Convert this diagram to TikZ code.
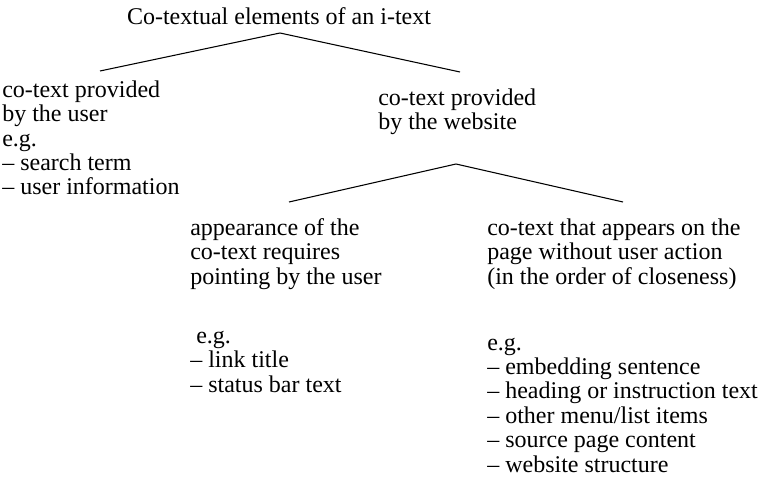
\documentclass[tikz,border=0pt]{standalone}
\usepackage{fontspec}
\setmainfont{Liberation Serif}

\begin{document}
\begin{tikzpicture}[x=0.75pt,y=-0.75pt,
  font=\fontsize{18}{18.3}\selectfont,
  txt/.style={align=left,anchor=base west,inner sep=0pt},
  ln/.style={line width=0.8pt}]
  \useasboundingbox (0,0) rectangle (764,481);
  % text blocks, placed by the baseline of their last line
  \node[inner sep=0pt,anchor=base](root) at (279,25) {Co-textual elements of an i-text};
  \node[txt](user) at (2,195) {co-text provided\\by the user\\e.g.\\-- search term\\-- user information};
  \node[txt](site) at (378,130) {co-text provided\\by the website};
  \node[txt](point) at (190,284) {appearance of the\\co-text requires\\pointing by the user};
  \node[txt](pointeg) at (190,392) {\hspace{4.5pt}e.g.\\-- link title\\-- status bar text};
  \node[txt](noact) at (487,284) {co-text that appears on the\\page without user action\\(in the order of closeness)};
  \node[txt](noacteg) at (487,472) {e.g.\\-- embedding sentence\\-- heading or instruction text\\-- other menu/list items\\-- source page content\\-- website structure};
  % branch points
  \coordinate (top) at (280,33);
  \coordinate (usertip) at (100,71);
  \coordinate (sitetip) at (460,72);
  \coordinate (sitefork) at (456,164);
  \coordinate (pointtip) at (289,202);
  \coordinate (noacttip) at (623,202);
  \draw[ln](usertip)--(top)--(sitetip);
  \draw[ln](pointtip)--(sitefork)--(noacttip);
\end{tikzpicture}
\end{document}
